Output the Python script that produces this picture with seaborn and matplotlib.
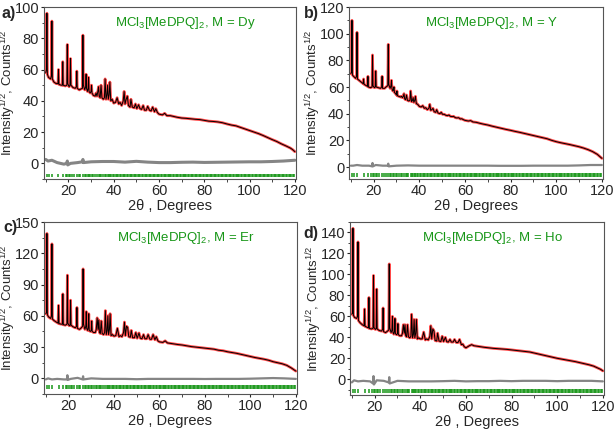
import matplotlib
matplotlib.use("Agg")
import matplotlib.pyplot as plt
from matplotlib.ticker import MultipleLocator
import pandas as pd
import seaborn as sns

# 2theta grid shared by the four patterns
two_theta = [10.0, 10.3, 10.5, 10.7, 11.2, 12.1, 12.5, 12.7, 12.9, 13.6,
             14.6, 15.4, 15.6, 15.8, 16.8, 17.3, 17.5, 17.7, 18.6, 19.3,
             19.5, 19.7, 20.3, 20.7, 20.9, 21.1, 22.0, 23.0, 23.5, 23.7,
             23.9, 24.8, 25.4, 26.2, 26.4, 26.6, 27.2, 27.6, 27.8, 28.0,
             28.4, 28.7, 28.9, 29.1, 29.6, 30.0, 30.2, 30.4, 31.0, 31.8,
             32.2, 32.6, 33.0, 33.3, 33.6, 34.0, 34.4, 34.8, 35.4, 35.9,
             36.2, 36.6, 37.0, 37.3, 37.6, 38.0, 38.3, 38.7, 39.3, 40.0,
             40.8, 41.5, 42.2, 42.8, 43.5, 44.2, 44.6, 45.0, 45.5, 46.0,
             46.5, 47.2, 47.6, 48.2, 49.0, 49.6, 50.2, 51.0, 51.6, 52.3,
             53.0, 53.6, 54.4, 55.0, 55.8, 56.5, 57.2, 58.0, 58.6, 59.3,
             60.0, 61.5, 62.5, 63.5, 65.0, 66.5, 68.0, 70.0, 72.0, 74.0,
             76.0, 78.0, 80.0, 82.0, 84.0, 86.0, 88.0, 90.0, 92.0, 94.0,
             96.0, 98.0, 100.0, 102.0, 104.0, 106.0, 108.0, 110.0, 112.0, 114.0,
             116.0, 118.0, 119.0, 120.0]

# sqrt(intensity)
int_dy = [58, 60, 96, 57, 55, 54, 56, 91, 54, 52,
          51, 51, 60, 50.5, 50, 50, 65, 50, 49.5, 50,
          76, 51, 49, 50, 67, 50, 48.5, 48, 49, 59,
          48, 47, 47.5, 48, 82, 50, 47, 49, 57, 48,
          46, 48, 55, 46, 45, 46, 50, 45, 43.5, 43,
          45, 43, 46, 49, 43, 42, 50, 42, 41, 42,
          54, 41, 44, 50, 41, 44, 52, 40, 41, 38.5,
          39, 42, 38, 39, 37, 40, 46, 38, 41, 43,
          37, 36, 41, 36, 35.5, 38, 35, 37.5, 35, 34.5,
          37, 34, 34, 36.5, 34, 33.5, 36, 33, 35, 32.5,
          31.5, 31, 32, 30.5, 30.5, 30, 29.5, 29, 28.8, 28.5,
          28.2, 28, 27.5, 27, 26.8, 26.5, 26, 25.2, 24.5, 24,
          23, 22, 21, 20, 19, 17.8, 16.5, 15.2, 14, 12.5,
          11.2, 9.8, 8.8, 7.5]

int_y = [70, 71, 110, 69, 68, 66.5, 68, 101, 66, 65,
         63.5, 62.5, 66, 62, 61, 60.5, 68, 60, 59.5, 60,
         84, 61, 59.5, 60, 72, 60, 59.5, 59, 60, 68,
         59, 59, 60, 61, 92, 62, 59, 61, 65, 59,
         57, 58, 60, 56, 55, 54, 57, 53.5, 53, 52.5,
         53, 52, 53, 55, 51, 50.5, 54, 50, 49.5, 50,
         57, 49, 50, 52, 48.5, 50, 53, 47.5, 47, 45.5,
         45, 46, 44, 44.5, 43, 44, 47, 42.5, 43, 44,
         41.5, 41, 43, 40.5, 40, 41, 39.5, 39.5, 38.8, 38.5,
         39, 38, 37.8, 38, 37, 36.8, 37, 36, 36.2, 35.5,
         35, 34.5, 34.8, 33.8, 33.5, 32.8, 32.2, 31.5, 30.6, 29.8,
         29, 28.2, 27.5, 26.7, 26, 25.2, 24.4, 23.6, 22.8, 22,
         21.2, 20, 19, 18.2, 17.5, 16.8, 16, 15.2, 14.2, 13,
         11.5, 9.5, 8, 6.5]

int_er = [62, 63, 139, 61, 59, 57.5, 60, 129, 57, 55.5,
          54, 53, 70, 52.5, 52, 52, 81, 51.5, 51, 52,
          99, 53, 50.5, 51, 75, 51, 49.5, 48.5, 50, 68,
          48, 47, 48, 50, 105, 52, 47, 50, 64, 48,
          46, 49, 62, 46, 45, 46, 55, 45, 44, 44,
          47, 58, 47, 56, 44, 43, 55, 43, 42, 44,
          65, 42, 46, 60, 42, 47, 62, 41, 42, 40.5,
          41, 48, 40, 41, 40, 44, 54, 41, 50, 49,
          40, 39.5, 46, 39, 39, 44, 38.5, 43.5, 38.5, 38,
          42, 38, 38, 42, 37.5, 37.5, 42, 37, 40, 36,
          35, 34.5, 36, 34, 33.5, 33, 32.5, 32, 31.2, 30.5,
          30, 29.5, 29, 28.5, 28, 27, 26.5, 25.5, 24.8, 24,
          23, 22, 21, 20, 19.2, 18.4, 17.4, 16, 15, 14,
          12.5, 10, 8.5, 7]

int_ho = [62, 63, 144, 61, 59, 58, 60, 131, 56, 54,
          52, 51, 67, 50.5, 49.5, 49, 78, 48.5, 48, 48.5,
          99, 49.5, 47.5, 48.5, 86, 48, 46.5, 46, 47.5, 68,
          45.5, 44.5, 45.5, 47, 110, 49, 44.5, 47, 60, 45,
          43, 46, 58, 43.5, 42.5, 43.5, 53, 42.5, 41.5, 41.5,
          44, 52, 44, 52, 41.5, 40.5, 52, 40.5, 39.5, 41,
          62, 39.5, 43, 57, 39.5, 44, 57, 38.5, 39.5, 38.5,
          38.5, 45, 37.5, 38.5, 37.5, 41, 51, 38.5, 48, 46,
          37, 36.5, 44, 36.5, 36, 41, 36, 40, 35.8, 35.5,
          38, 35.5, 35.5, 38, 35, 35, 38, 33, 33.5, 31,
          30, 32, 33, 32, 31.5, 31, 30.5, 30, 29.5, 29.2,
          28.8, 28.5, 28, 27.5, 27, 26.5, 26, 25, 24, 23,
          22, 21, 20, 19.2, 18.4, 17.6, 16.8, 15.8, 14.8, 13.8,
          12.5, 10.5, 9.5, 8]

# difference curves (obs - calc)
diff_theta = [10, 11, 12.7, 15, 18, 19.3, 19.5, 19.7, 20.9, 24,
              26.2, 26.4, 26.6, 30, 35, 40, 45, 50, 55, 60,
              65, 70, 75, 80, 85, 90, 95, 100, 105, 110,
              115, 120]
diff_dy = [2.5, 1.5, 2, 0.5, -0.5, 0, 1.5, -1, 0, 0.5,
           1, 2.5, 0.5, 1, 1.2, 1.2, 0.8, 1.3, 0.8, 0.5,
           0.5, 0.7, 0.8, 0.6, 0.7, 0.8, 0.9, 1.0, 1.0, 1.2,
           1.5, 2]
diff_y = [1, 1, 1.5, 1, 1, 0.5, 3, 0.5, 1.5, 1,
          1, 2.5, 0.5, 1, 1.2, 1, 1, 1, 1, 1,
          1, 1, 0.9, 0.9, 0.9, 1, 1, 1, 1, 1.2,
          1.5, 1.5]
diff_er = [-1, 0, -1, -0.5, -1, -1, 3, -1.5, -0.5, 0.5,
           -1, 2, -1, 0, -0.5, -0.5, -0.5, -0.8, -0.5, -0.5,
           -0.5, -0.5, -0.5, -0.6, -0.5, -0.5, -0.5, -0.3, 0, 0.3,
           0, -0.5]
diff_ho = [-3, -1, -2, -1.5, -2, -4, 3, -5, -1, -1.5,
           -3, 2, -4, -1.5, -2, -2, -2, -1.8, -1.5, -2,
           -1.8, -1.8, -1.5, -1.8, -1.5, -1.5, -1.5, -1.8, -1.5, -1.5,
           -1.5, -2]

# Bragg reflection positions (same cell type for all four)
bragg_pos = [10.5, 11.4, 12.7, 15.6, 17.5, 18.8, 19.5, 20.3, 20.9, 21.6,
             22.4, 23.7, 24.5, 25.2, 26.4, 27.1, 27.8, 28.5, 28.9, 29.7,
             30.2, 31.0, 31.9, 32.6, 33.3, 34.0, 34.4, 35.2, 36.2, 36.8,
             37.3, 37.9, 38.3, 39.0, 39.6, 40.2, 40.8, 41.5, 42.1, 42.6,
             43.3, 43.9, 44.6, 45.2, 45.7, 46.3, 47.0, 47.6, 48.2, 48.8,
             49.3, 50.0, 50.6, 51.2, 51.7, 52.4, 53.0, 53.6, 54.1, 54.8,
             55.4, 56.0, 56.5, 57.2, 57.8, 58.4, 59.0, 59.6, 60.2, 60.8,
             61.4, 62.0, 62.6, 63.1, 63.8, 64.4, 65.0, 65.5, 66.2, 66.8,
             67.4, 68.0, 68.5, 69.2, 69.8, 70.4, 71.0, 71.6, 72.1, 72.8,
             73.4, 74.0, 74.6, 75.1, 75.8, 76.4, 77.0, 77.6, 78.2, 78.7,
             79.4, 80.0, 80.6, 81.2, 81.7, 82.4, 83.0, 83.5, 84.2, 84.8,
             85.3, 86.0, 86.6, 87.2, 87.7, 88.4, 89.0, 89.5, 90.2, 90.8,
             91.4, 92.0, 92.5, 93.2, 93.8, 94.4, 95.0, 95.5, 96.2, 96.8,
             97.4, 98.0, 98.6, 99.1, 99.8, 100.4, 101.0, 101.6, 102.2, 102.7,
             103.4, 104.0, 104.6, 105.1, 105.8, 106.4, 107.0, 107.6, 108.2, 108.7,
             109.4, 110.0, 110.6, 111.2, 111.7, 112.4, 113.0, 113.6, 114.2, 114.7,
             115.4, 116.0, 116.6, 117.2, 117.7, 118.4, 119.0, 119.6]

metals = ["Dy", "Y", "Er", "Ho"]
tags = ["a)", "b)", "c)", "d)"]
intensities = [int_dy, int_y, int_er, int_ho]
differences = [diff_dy, diff_y, diff_er, diff_ho]
ylims = [(-10, 100), (-9, 120), (-15, 150), (-15, 150)]
ysteps = [(20, 10), (20, 10), (30, 15), (20, 10)]
tick_rows = [(-6.5, -9), (-4.5, -7.5), (-6.5, -10.5), (-9.5, -13.5)]

sns.set_style("ticks")
plt.rcParams["font.family"] = ["Liberation Sans", "DejaVu Sans"]
plt.rcParams["mathtext.default"] = "regular"

fig = plt.figure(figsize=(6.15, 4.3), dpi=100)
boxes = [[0.0715, 0.5837, 0.4098, 0.400],
         [0.5675, 0.5837, 0.4130, 0.400],
         [0.0715, 0.0837, 0.4114, 0.400],
         [0.5691, 0.0814, 0.4130, 0.4023]]
tag_xy = [(0.002, 0.968), (0.494, 0.968), (0.006, 0.470), (0.494, 0.457)]

green = "#179617"

for i in range(4):
    ax = fig.add_axes(boxes[i])
    pat = pd.DataFrame({"tt": two_theta, "I": intensities[i]})
    dif = pd.DataFrame({"tt": diff_theta, "d": differences[i]})

    # observed (red) under calculated (black)
    sns.lineplot(data=pat, x="tt", y="I", ax=ax, color="#ff2a2a", lw=2.0,
                 alpha=0.85, estimator=None)
    sns.lineplot(data=pat, x="tt", y="I", ax=ax, color="black", lw=0.7,
                 estimator=None)
    sns.lineplot(data=dif, x="tt", y="d", ax=ax, color="#858585",
                 lw=2.2 if i == 0 else 1.6, estimator=None)
    lo, hi = tick_rows[i]
    ax.vlines(bragg_pos, lo, hi, color=green, lw=1.1)

    ax.set_xlim(9.2, 120.5)
    ax.set_ylim(*ylims[i])
    ax.xaxis.set_major_locator(MultipleLocator(20))
    ax.xaxis.set_minor_locator(MultipleLocator(10))
    ax.yaxis.set_major_locator(MultipleLocator(ysteps[i][0]))
    ax.yaxis.set_minor_locator(MultipleLocator(ysteps[i][1]))
    ax.tick_params(which="major", length=2.5, width=0.8, labelsize=10.5,
                   pad=1)
    ax.tick_params(which="minor", length=1.8, width=0.6)
    for s in ax.spines.values():
        s.set_color("#555555")
        s.set_linewidth(0.8)

    ax.set_xlabel("2θ , Degrees", fontsize=10.5, labelpad=1)
    ax.set_ylabel("Intensity$^{1/2}$, Counts$^{1/2}$", fontsize=9.5)
    ax.yaxis.set_label_coords(-0.102, 0.5)
    ax.text(0.56, 0.905, "MCl$_3$[MeDPQ]$_2$, M = " + metals[i],
            transform=ax.transAxes, ha="center", va="center",
            color=green, fontsize=9.5)
    fig.text(tag_xy[i][0], tag_xy[i][1], tags[i], fontsize=11.5,
             fontweight="bold", ha="left", va="center")

fig.savefig("out.png", dpi=100)
